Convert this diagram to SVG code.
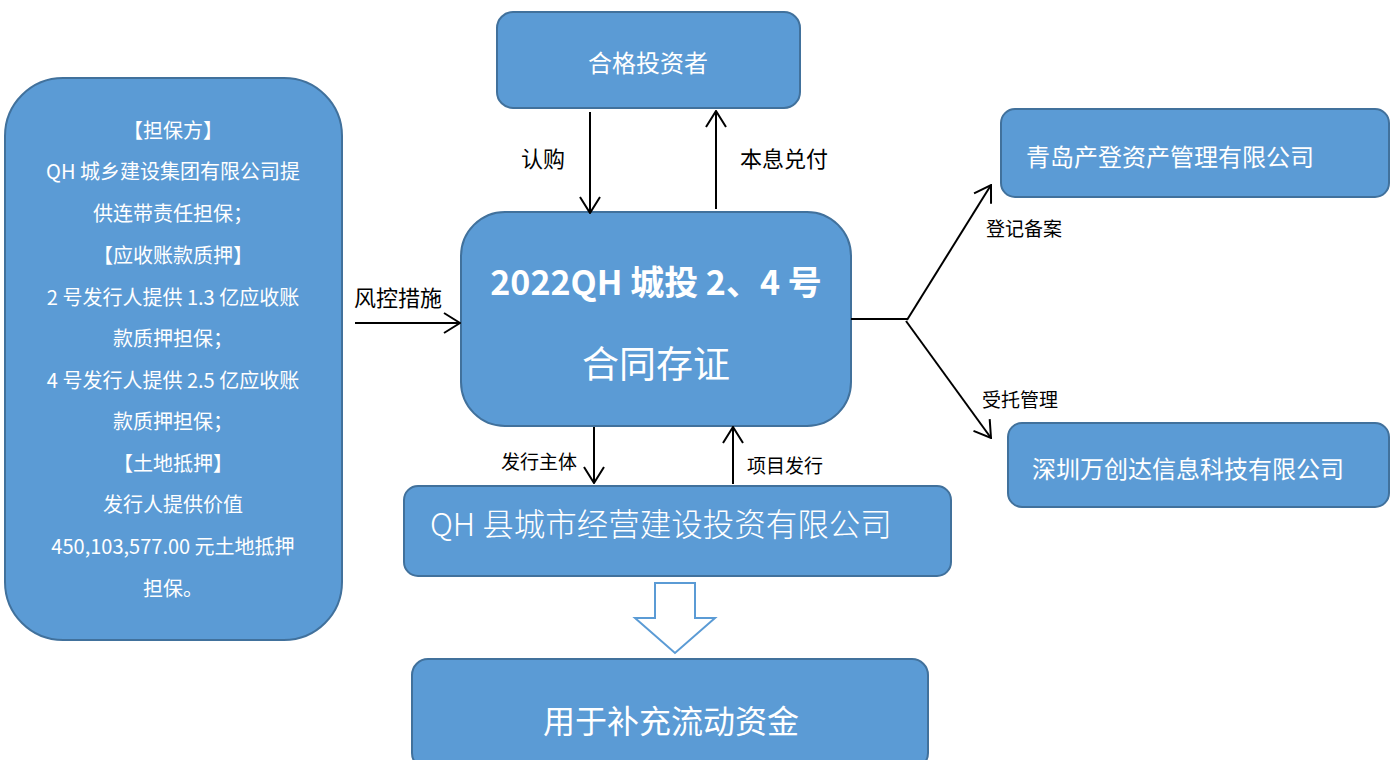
<svg xmlns="http://www.w3.org/2000/svg" width="1390" height="760" viewBox="0 0 1390 760">
<defs>
<style>
.box{fill:#5B9BD5;stroke:#41719C;stroke-width:2}
.t{font-family:"Noto Sans CJK SC","Noto Sans",sans-serif;fill:#fff;dominant-baseline:central}
.lt{font-family:"Noto Sans CJK SC","Noto Sans",sans-serif;fill:#000;dominant-baseline:central}
.c{stroke:#000;stroke-width:2;fill:none}
</style>
<marker id="ah" viewBox="0 0 18 22" refX="17" refY="11" markerWidth="18" markerHeight="22" markerUnits="userSpaceOnUse" orient="auto">
<path d="M1,1 L17,11 L1,21" fill="none" stroke="#000" stroke-width="2"/>
</marker>
</defs>
<rect width="1390" height="760" fill="#fff"/>

<g id="guarantee">
<rect class="box" x="5" y="78" width="337" height="562" rx="58" ry="58"/>
<g class="t" font-size="20" text-anchor="middle">
<text x="173" y="129">【担保方】</text>
<text x="173" y="170">QH 城乡建设集团有限公司提</text>
<text x="173" y="212">供连带责任担保；</text>
<text x="173" y="254">【应收账款质押】</text>
<text x="173" y="296">2 号发行人提供 1.3 亿应收账</text>
<text x="173" y="337">款质押担保；</text>
<text x="173" y="379">4 号发行人提供 2.5 亿应收账</text>
<text x="173" y="420">款质押担保；</text>
<text x="173" y="462">【土地抵押】</text>
<text x="173" y="503">发行人提供价值</text>
<text x="173" y="545">450,103,577.00 元土地抵押</text>
<text x="173" y="587">担保。</text>
</g>
</g>

<g id="investor">
<rect class="box" x="497" y="12" width="303" height="96" rx="16" ry="16"/>
<text class="t" x="648" y="61" font-size="24" text-anchor="middle">合格投资者</text>
</g>

<g id="center">
<rect class="box" x="461" y="212" width="390" height="214" rx="44" ry="44"/>
<text class="t" x="656" y="280" font-size="34" font-weight="bold" text-anchor="middle">2022QH 城投 2、4 号</text>
<text class="t" x="656" y="362" font-size="37" text-anchor="middle">合同存证</text>
</g>

<g id="qingdao">
<rect class="box" x="1001" y="109" width="388" height="88" rx="14" ry="14"/>
<text class="t" x="1026" y="155" font-size="24">青岛产登资产管理有限公司</text>
</g>

<g id="shenzhen">
<rect class="box" x="1008" y="423" width="381" height="84" rx="14" ry="14"/>
<text class="t" x="1032" y="467" font-size="24">深圳万创达信息科技有限公司</text>
</g>

<g id="issuer">
<rect class="box" x="404" y="486" width="547" height="90" rx="14" ry="14"/>
<text class="t" x="430" y="522" font-size="31.5" font-weight="300">QH 县城市经营建设投资有限公司</text>
</g>

<g id="usage">
<rect class="box" x="412" y="659" width="516" height="110" rx="16" ry="16"/>
<text class="t" x="671" y="719" font-size="32" text-anchor="middle">用于补充流动资金</text>
</g>

<g id="connectors">
<line class="c" x1="590" y1="112" x2="590" y2="213" marker-end="url(#ah)"/>
<line class="c" x1="716" y1="209" x2="716" y2="111" marker-end="url(#ah)"/>
<line class="c" x1="355" y1="323" x2="460" y2="323" marker-end="url(#ah)"/>
<line class="c" x1="594" y1="427" x2="594" y2="483" marker-end="url(#ah)"/>
<line class="c" x1="733" y1="484" x2="733" y2="427" marker-end="url(#ah)"/>
<polyline class="c" points="851,319 908,319"/>
<line class="c" x1="907" y1="320" x2="991" y2="185" marker-end="url(#ah)"/>
<line class="c" x1="906" y1="321" x2="991" y2="438" marker-end="url(#ah)"/>
<path d="M655,583 L695,583 L695,618 L715,618 L675,653 L635,618 L655,618 Z" fill="#fff" stroke="#5B9BD5" stroke-width="2"/>
<g class="lt">
<text x="543" y="157" font-size="22" text-anchor="middle">认购</text>
<text x="784" y="157" font-size="22" text-anchor="middle">本息兑付</text>
<text x="398" y="296" font-size="22" text-anchor="middle">风控措施</text>
<text x="539" y="460" font-size="19" text-anchor="middle">发行主体</text>
<text x="785" y="464" font-size="19" text-anchor="middle">项目发行</text>
<text x="1024" y="227" font-size="19" text-anchor="middle">登记备案</text>
<text x="1020" y="398" font-size="19" text-anchor="middle">受托管理</text>
</g>
</g>
</svg>
